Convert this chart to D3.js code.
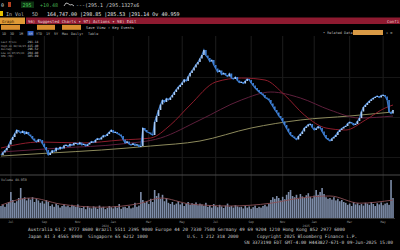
<!DOCTYPE html>
<html>
<head>
<meta charset="utf-8">
<script src="https://cdn.jsdelivr.net/npm/d3@7"></script>
<style>
html, body { margin: 0; padding: 0; background: #000; overflow: hidden; }
svg { display: block; }
text { font-family: "DejaVu Sans Mono", "Liberation Mono", monospace; }
</style>
</head>
<body>
<svg id="chart" width="400" height="250"></svg>
<script>
// daily closes, oldest first
const closes = [
  205, 210, 214, 219, 226, 235, 241, 248, 255, 252,
  249, 253, 247, 251, 246, 243, 238, 234, 231, 236,
  235, 228, 221, 215, 205, 209, 214, 212, 219, 216,
  221, 218, 224, 225, 222, 227, 224, 229, 229, 226,
  230, 225, 227, 223, 226, 229, 232, 230, 235, 238,
  236, 240, 244, 243, 247, 251, 255, 250, 251, 248,
  246, 243, 236, 229, 232, 227, 225, 228, 224, 226,
  222, 223, 259, 255, 251, 250, 247, 245, 271, 283,
  295, 306, 315, 311, 318, 315, 320, 325, 331, 336,
  341, 345, 350, 356, 353, 362, 369, 374, 380, 386,
  391, 398, 405, 415, 404, 399, 392, 395, 385, 378,
  371, 374, 366, 369, 365, 362, 368, 359, 357, 361,
  354, 350, 351, 348, 353, 357, 355, 349, 344, 339,
  335, 331, 328, 325, 320, 318, 315, 308, 302, 295,
  290, 283, 279, 272, 265, 258, 251, 245, 242, 239,
  236, 243, 247, 252, 259, 262, 266, 267, 260, 255,
  258, 262, 259, 252, 245, 239, 236, 233, 238, 241,
  245, 251, 255, 258, 261, 263, 268, 271, 269, 265,
  267, 273, 279, 292, 301, 305, 309, 313, 316, 319,
  321, 323, 320, 324, 325, 322, 315, 291, 288, 295
];

const volumes = [
  30, 34, 28, 36, 40, 65, 45, 38, 42, 50,
  75, 48, 52, 44, 50, 46, 52, 40, 48, 44, 38, 42, 36, 45, 40,
  30, 34, 28, 36, 32, 26, 30, 35, 29, 31, 27, 33, 30, 28, 34, 26,
  25, 28, 22, 30, 26, 24, 29, 27, 23, 31, 26, 28, 22, 25, 30, 27, 24, 29, 26, 35,
  23, 27, 28, 25, 30, 24, 26, 38, 28, 31,
  65, 45, 38, 42, 35, 48, 40, 70, 55, 62, 48, 58, 42, 50,
  38, 35, 40, 33, 36, 42, 34, 38, 30, 36, 40, 33, 37, 35, 39, 32, 36,
  34, 30, 38, 28, 32, 26, 35, 30, 27, 33, 29, 25, 31, 36, 28, 30, 26, 32, 29, 27,
  28, 24, 30, 26, 29, 23, 27, 31, 25, 28, 26, 30, 33, 29, 35,
  45, 52, 48, 55, 50, 44, 53, 47, 58, 65, 70, 55,
  52, 58, 48, 60, 54, 50, 57, 62, 53, 49, 56, 70, 58,
  65, 75, 60, 52, 48, 50, 46, 52, 44, 48, 42, 45, 40,
  38, 33, 36, 30, 40, 34, 37, 32, 35, 31, 38, 36, 33, 40, 35, 30, 37, 34, 39, 32, 36, 38, 33,
  95, 50
];

// moving averages: [day index, price]
const sma50 = [[0, 219], [20, 231], [41, 229], [61, 235], [76, 239], [86, 265], [96, 305], [109, 351],
  [122, 359], [134, 355], [144, 325], [154, 285], [165, 259], [175, 255], [185, 275], [195, 299], [199, 305]];
const sma100 = [[0, 211], [30, 219], [61, 227], [81, 239], [101, 275], [122, 315], [137, 331],
  [152, 319], [167, 295], [182, 279], [199, 283]];
const sma200 = [[0, 203], [25, 209], [51, 215], [76, 223], [101, 233], [127, 259], [152, 275],
  [177, 283], [199, 291]];
const volAvg = [[0, 32], [15, 50], [30, 35], [51, 27], [71, 37], [81, 50], [96, 35], [116, 30],
  [137, 37], [152, 50], [167, 55], [182, 37], [199, 45]];

// month gridlines (day index) and labels
const monthTicks = [5, 22, 39, 57, 75, 92, 109, 127, 143, 159, 177, 194];
const monthLabels = ["Jul", "Sep", "Nov", "Jan", "Mar", "May", "Jul", "Sep", "Nov", "Jan", "Mar", "May"];
const yearTicks = [57, 159];
const yearLabels = ["2024", "2025"];
const priceGrid = [200, 280, 360];

const legendNames = ["Last Price", "High on 02/18/25", "Average", "Low on 07/25/23", "SMA (50)"];
const legendValues = ["291.14", "415.40", "296.52", "204.80", "305.09"];

const svg = d3.select("#chart");

const x = d3.scaleLinear().domain([0, closes.length - 1]).range([1, 393]);
const yP = d3.scaleLinear().domain([175, 435]).range([170, 40]);
const yV = d3.scaleLinear().domain([0, 100]).range([218, 178]);

// ---------- header bars ----------
const hdr = svg.append("g").attr("font-size", 5);
hdr.append("text").attr("x", 1).attr("y", 7).attr("fill", "#ddd").text("0");
hdr.append("rect").attr("x", 8).attr("y", 2).attr("width", 3).attr("height", 5).attr("fill", "#b34020");
hdr.append("rect").attr("x", 21).attr("y", 1.5).attr("width", 13).attr("height", 6.5).attr("fill", "#0d3312");
hdr.append("text").attr("x", 22.5).attr("y", 6.8).attr("fill", "#4fcf5a").text("295");
hdr.append("text").attr("x", 40).attr("y", 6.8).attr("fill", "#46b04e").text("+10.48");
hdr.append("path").attr("d", "M64,6 L66,3 L68,3.5 L70,5 L72,4.5 L74,6")
  .attr("fill", "none").attr("stroke", "#ddd").attr("stroke-width", 0.8);
hdr.append("text").attr("x", 76).attr("y", 6.8).attr("fill", "#ccc").text("---(295.1 /295.1327x6");

hdr.append("rect").attr("x", 0).attr("y", 11).attr("width", 3).attr("height", 5).attr("fill", "#e6c200");
hdr.append("text").attr("x", 6).attr("y", 15.5).attr("fill", "#bbb").text("In  Vol");
hdr.append("text").attr("x", 32).attr("y", 15.5).attr("fill", "#bbb").text("5D");
hdr.append("text").attr("x", 47).attr("y", 15.5).attr("fill", "#e8e8e8")
  .text("164,747.00 |298.85 |285.53 |291.14 Ov 40.959");

hdr.append("rect").attr("x", 0).attr("y", 17.5).attr("width", 25).attr("height", 6.5).attr("fill", "#e09a35");
hdr.append("text").attr("x", 2).attr("y", 22.6).attr("font-size", 4).attr("fill", "#3a2000").text("Graph");
hdr.append("rect").attr("x", 26).attr("y", 17.5).attr("width", 374).attr("height", 6.5).attr("fill", "#8e1a30");
hdr.append("text").attr("x", 28).attr("y", 22.6).attr("font-size", 4).attr("fill", "#f0d8dc")
  .text("96) Suggested Charts \u25be 97) Actions \u25be 98) Edit");
hdr.append("text").attr("x", 387).attr("y", 22.6).attr("font-size", 4).attr("fill", "#f0c8cc").text("Confi");

[[1, 19], [37, 18], [62, 19]].forEach(([bx, bw]) => {
  hdr.append("rect").attr("x", bx).attr("y", 24.8).attr("width", bw).attr("height", 5)
    .attr("fill", "#d98f30");
});
hdr.append("text").attr("x", 86).attr("y", 29).attr("font-size", 3.6).attr("fill", "#ccc").text("Save View");
hdr.append("text").attr("x", 108).attr("y", 29).attr("font-size", 3.6).attr("fill", "#ccc").text("\u26a1 Key Events");

const tabs = ["1D", "3D", "1M", "6M", "YTD", "1Y", "5Y", "Max", "Daily\u25be"];
const tabX = [2, 10, 19, 28.5, 36, 46, 54, 62, 71];
tabs.forEach((t, i) => {
  if (i === 3) hdr.append("rect").attr("x", 27.5).attr("y", 31).attr("width", 6).attr("height", 4.5).attr("fill", "#2a5cc8");
  hdr.append("text").attr("x", tabX[i]).attr("y", 34.8).attr("font-size", 3.4).attr("fill", "#bbb").text(t);
});
hdr.append("text").attr("x", 88).attr("y", 34.8).attr("font-size", 3.4).attr("fill", "#bbb").text("Table");

hdr.append("text").attr("x", 323).attr("y", 34).attr("font-size", 3.5).attr("fill", "#bbb").text("\u2022 Related Data");
hdr.append("rect").attr("x", 353).attr("y", 30).attr("width", 30).attr("height", 5).attr("fill", "#d99a45");
hdr.append("text").attr("x", 386).attr("y", 34).attr("font-size", 3.5).attr("fill", "#bbb").text("\u2195 \u2699");

// ---------- grid ----------
const grid = svg.append("g");
grid.selectAll("line.v").data(monthTicks).join("line")
  .attr("x1", d => x(d)).attr("x2", d => x(d)).attr("y1", 36).attr("y2", 218)
  .attr("stroke", "#242424").attr("stroke-width", 0.8);
grid.selectAll("line.h").data(priceGrid).join("line")
  .attr("x1", 0).attr("x2", 400).attr("y1", d => yP(d)).attr("y2", d => yP(d))
  .attr("stroke", "#1c1c1c").attr("stroke-width", 0.8);

// ---------- legend ----------
const lg = svg.append("g");
legendNames.forEach((n, i) => {
  lg.append("text").attr("x", 1).attr("y", 43 + i * 3.6).attr("font-size", 2.6).attr("fill", "#aaa").text(n);
  lg.append("text").attr("x", 27.5).attr("y", 43 + i * 3.6).attr("font-size", 3).attr("fill", "#ccc").text(legendValues[i]);
});

// ---------- moving averages ----------
const maLine = d3.line().x(d => x(d[0])).y(d => yP(d[1])).curve(d3.curveMonotoneX);
svg.append("path").datum(sma200).attr("d", maLine).attr("fill", "none").attr("stroke", "#8d8a5c").attr("stroke-width", 1);
svg.append("path").datum(sma100).attr("d", maLine).attr("fill", "none").attr("stroke", "#5e1f3c").attr("stroke-width", 1);
svg.append("path").datum(sma50).attr("d", maLine).attr("fill", "none").attr("stroke", "#8e1d2c").attr("stroke-width", 1);

// ---------- price ----------
const priceLine = d3.line().x((d, i) => x(i)).y(d => yP(d));
svg.append("path").datum(closes).attr("d", priceLine)
  .attr("fill", "none").attr("stroke", "#3a78c8").attr("stroke-width", 1.2);
svg.append("g").selectAll("rect").data(closes.slice(1)).join("rect")
  .attr("x", (d, i) => x(i + 1) - 0.8)
  .attr("width", 1.6)
  .attr("y", (d, i) => yP(Math.max(d, closes[i])))
  .attr("height", (d, i) => Math.max(1, Math.abs(yP(d) - yP(closes[i]))))
  .attr("fill", (d, i) => d >= closes[i] ? "#a8c9f2" : "#3f80d6");

// ---------- volume ----------
svg.append("line").attr("x1", 0).attr("x2", 400).attr("y1", 175).attr("y2", 175)
  .attr("stroke", "#4a4a4a").attr("stroke-width", 1);
svg.append("text").attr("x", 1).attr("y", 181).attr("font-size", 3.3).attr("fill", "#aaa").text("Volume  40.959");
svg.append("g").selectAll("rect").data(volumes).join("rect")
  .attr("x", (d, i) => x(i) - 0.8)
  .attr("width", 1.6)
  .attr("y", d => yV(d))
  .attr("height", d => yV(0) - yV(d))
  .attr("fill", "#7d8ca8");
svg.append("path").datum(volAvg)
  .attr("d", d3.line().x(d => x(d[0])).y(d => yV(d[1])).curve(d3.curveMonotoneX))
  .attr("fill", "none").attr("stroke", "#8a4f55").attr("stroke-width", 0.9);
svg.append("line").attr("x1", 0).attr("x2", 395).attr("y1", 218.5).attr("y2", 218.5)
  .attr("stroke", "#555").attr("stroke-width", 0.6);

// ---------- date axis ----------
const ax = svg.append("g").attr("font-size", 3).attr("fill", "#999").attr("text-anchor", "middle");
ax.selectAll("text.m").data(monthTicks).join("text")
  .attr("x", d => x(d)).attr("y", 223).text((d, i) => monthLabels[i]);
yearTicks.forEach((t, i) => {
  ax.append("text").attr("x", x(t) - 8).attr("y", 226.5).text(yearLabels[i]);
});

// ---------- footer ----------
const ft = svg.append("g").attr("font-size", 4.5).attr("fill", "#c8c8c8");
ft.append("text").attr("x", 28).attr("y", 231)
  .text("Australia 61 2 9777 8600 Brazil 5511 2395 9000 Europe 44 20 7330 7500 Germany 49 69 9204 1210 Hong Kong 852 2977 6000");
ft.append("text").attr("x", 28).attr("y", 237.5).text("Japan 81 3 4565 8900");
ft.append("text").attr("x", 88).attr("y", 237.5).text("Singapore 65 6212 1000");
ft.append("text").attr("x", 187).attr("y", 237.5).text("U.S. 1 212 318 2000");
ft.append("text").attr("x", 257).attr("y", 237.5).text("Copyright 2025 Bloomberg Finance L.P.");
ft.append("text").attr("x", 244).attr("y", 243.5).text("SN 3373190 EDT GMT-4:00 H443827-671-0 09-Jun-2025 15:00");
</script>
</body>
</html>
